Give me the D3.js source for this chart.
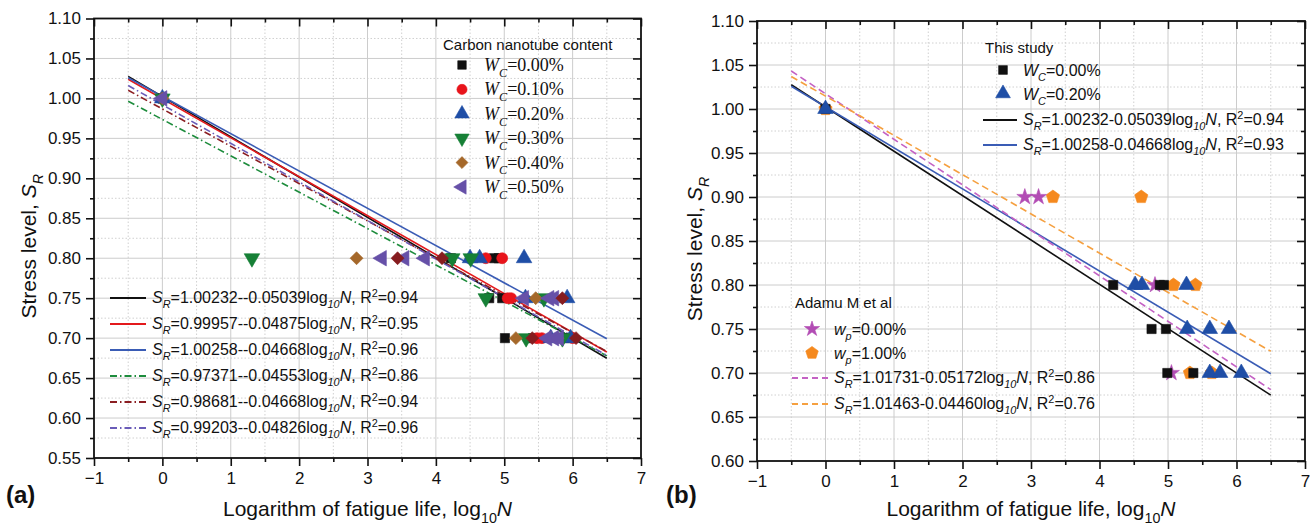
<!DOCTYPE html>
<html>
<head>
<meta charset="utf-8">
<script src="https://cdn.jsdelivr.net/npm/d3@7"></script>
<style>
  body { margin: 0; background: #fff; }
  svg { font-family: Arial, "Liberation Sans", sans-serif; }
  text { fill: #111; }
</style>
</head>
<body>
<svg id="chart" width="1313" height="530"></svg>
<script>
// ---- tick labels ----
const xTicks = [-1, 0, 1, 2, 3, 4, 5, 6, 7];
const yTicksA = [0.55, 0.60, 0.65, 0.70, 0.75, 0.80, 0.85, 0.90, 0.95, 1.00, 1.05, 1.10];
const yTicksB = [0.60, 0.65, 0.70, 0.75, 0.80, 0.85, 0.90, 0.95, 1.00, 1.05, 1.10];

// ---- panel (a) points: [log10N, S_R] ----
const wc000 = [[0, 1.0], [4.22, 0.80], [4.85, 0.80], [4.92, 0.80], [4.78, 0.75], [4.97, 0.75], [5.01, 0.70], [5.42, 0.70], [5.9, 0.70]];
const wc010 = [[0, 1.0], [4.73, 0.80], [4.97, 0.80], [5.05, 0.75], [5.1, 0.75], [5.48, 0.70], [5.55, 0.70], [6.0, 0.70]];
const wc020 = [[0, 1.0], [4.5, 0.80], [4.64, 0.80], [5.29, 0.80], [5.31, 0.75], [5.92, 0.75], [5.68, 0.70], [5.97, 0.70]];
const wc030 = [[0, 1.0], [1.31, 0.80], [4.24, 0.80], [4.51, 0.80], [4.73, 0.75], [5.58, 0.75], [5.32, 0.70], [5.85, 0.70]];
const wc040 = [[0, 1.0], [2.84, 0.80], [5.46, 0.75], [5.17, 0.70], [5.78, 0.70]];
const wc040b = [[3.44, 0.80], [4.09, 0.80], [5.85, 0.75], [5.41, 0.70], [6.05, 0.70]];
const wc050 = [[0, 1.0], [3.21, 0.80], [3.54, 0.80], [3.84, 0.80], [5.29, 0.75], [5.66, 0.75], [5.73, 0.75], [5.63, 0.70], [5.73, 0.70], [5.8, 0.70]];

// fitted lines, panel (a)
const fitA_a = [1.00232, 0.99957, 1.00258, 0.97371, 0.98681, 0.99203];
const fitA_b = [0.05039, 0.04875, 0.04668, 0.04553, 0.04668, 0.04826];
const fitA_r2 = ['0.94', '0.95', '0.96', '0.86', '0.94', '0.96'];
const wcLabels = ['0.00%', '0.10%', '0.20%', '0.30%', '0.40%', '0.50%'];

// ---- panel (b) points ----
const bW000 = [[0, 1.0], [4.2, 0.80], [4.88, 0.80], [4.94, 0.80], [4.76, 0.75], [4.97, 0.75], [4.99, 0.70], [5.37, 0.70]];
const bW020 = [[0, 1.0], [4.52, 0.80], [4.62, 0.80], [5.27, 0.80], [5.28, 0.75], [5.61, 0.75], [5.89, 0.75], [5.61, 0.70], [5.76, 0.70], [6.07, 0.70]];
const bWp000 = [[2.91, 0.90], [3.11, 0.90], [4.81, 0.80], [5.05, 0.70]];
const bWp100 = [[0, 1.0], [3.32, 0.90], [4.61, 0.90], [5.08, 0.80], [5.40, 0.80], [5.32, 0.70], [5.64, 0.70]];

const fitB_a = [1.00232, 1.00258, 1.01731, 1.01463];
const fitB_b = [0.05039, 0.04668, 0.05172, 0.04460];
const fitB_r2 = ['0.94', '0.93', '0.86', '0.76'];

const svg = d3.select('#chart');
const serif = '"Liberation Serif", "Times New Roman", serif';

// rich text with italic / sub / sup parts
function rich(sel, parts, fs) {
  let shift = 0;
  parts.forEach(p => {
    const target = p.sub ? 0.32 : p.sup ? -0.38 : 0;
    const ts = sel.append('tspan').text(p.t)
      .attr('dy', ((target - shift) * fs).toFixed(2))
      .attr('font-size', (p.sub || p.sup) ? fs * 0.68 : fs);
    if (p.i) ts.attr('font-style', 'italic');
    shift = target;
  });
  return sel;
}
function eqParts(a, b, r2, sep) {
  return [{ t: 'S', i: 1 }, { t: 'R', i: 1, sub: 1 }, { t: '=' + a.toFixed(5) + sep + b.toFixed(5) + 'log' },
    { t: '10', i: 1, sub: 1 }, { t: 'N', i: 1 }, { t: ', R' }, { t: '2', sup: 1 }, { t: '=' + r2 }];
}

function shapePath(shape, size) {
  if (shape === 'square') return d3.symbol(d3.symbolSquare, size)();
  if (shape === 'circle') return d3.symbol(d3.symbolCircle, size)();
  if (shape === 'star') return d3.symbol(d3.symbolStar, size)();
  if (shape === 'diamond') return d3.symbol(d3.symbolSquare, size * 0.8)();
  if (shape === 'pentagon') {
    const r = Math.sqrt(size / 2.38);
    const pts = d3.range(5).map(k => {
      const ang = -Math.PI / 2 + k * 2 * Math.PI / 5;
      return [r * Math.cos(ang), r * Math.sin(ang)];
    });
    return 'M' + pts.join('L') + 'Z';
  }
  return d3.symbol(d3.symbolTriangle, size)();
}
const shapeRot = { down: 180, left: -90, diamond: 45 };

function marker(g, shape, color, x, y, size) {
  g.append('path')
    .attr('d', shapePath(shape, size))
    .attr('transform', `translate(${x},${y}) rotate(${shapeRot[shape] || 0})`)
    .attr('fill', color)
    .attr('stroke', color)
    .attr('stroke-width', 0.6);
}

function panel(cfg) {
  const x = d3.scaleLinear().domain([-1, 7]).range([cfg.left, cfg.right]);
  const y = d3.scaleLinear().domain(cfg.yDomain).range([cfg.bottom, cfg.top]);
  const g = svg.append('g');

  // grid
  const xMinor = xTicks.slice(0, -1).map(v => v + 0.5);
  const yMinor = cfg.yTicks.slice(0, -1).map(v => v + 0.025);
  g.append('g').selectAll('line').data(xMinor).join('line')
    .attr('x1', d => x(d)).attr('x2', d => x(d)).attr('y1', cfg.top).attr('y2', cfg.bottom)
    .attr('stroke', '#d0d0d0').attr('stroke-dasharray', '1.5,2');
  g.append('g').selectAll('line').data(yMinor).join('line')
    .attr('y1', d => y(d)).attr('y2', d => y(d)).attr('x1', cfg.left).attr('x2', cfg.right)
    .attr('stroke', '#d0d0d0').attr('stroke-dasharray', '1.5,2');
  g.append('g').selectAll('line').data(xTicks.slice(1, -1)).join('line')
    .attr('x1', d => x(d)).attr('x2', d => x(d)).attr('y1', cfg.top).attr('y2', cfg.bottom)
    .attr('stroke', '#cccccc');
  g.append('g').selectAll('line').data(cfg.yTicks.slice(1, -1)).join('line')
    .attr('y1', d => y(d)).attr('y2', d => y(d)).attr('x1', cfg.left).attr('x2', cfg.right)
    .attr('stroke', '#cccccc');

  // axes (outward ticks bottom/left, inward top/right)
  const fmt = d3.format('.2f');
  g.append('g').attr('transform', `translate(0,${cfg.bottom})`)
    .call(d3.axisBottom(x).tickValues(xTicks).tickSize(8).tickPadding(6).tickFormat(d3.format('d')));
  g.append('g').attr('transform', `translate(${cfg.left},0)`)
    .call(d3.axisLeft(y).tickValues(cfg.yTicks).tickSize(8).tickPadding(5).tickFormat(fmt));
  g.append('g').attr('transform', `translate(0,${cfg.top})`)
    .call(d3.axisBottom(x).tickValues(xTicks).tickSize(8).tickFormat(''));
  g.append('g').attr('transform', `translate(${cfg.right},0)`)
    .call(d3.axisLeft(y).tickValues(cfg.yTicks).tickSize(8).tickFormat(''));
  g.append('g').attr('transform', `translate(0,${cfg.bottom})`)
    .call(d3.axisBottom(x).tickValues(xMinor).tickSize(4).tickFormat(''));
  g.append('g').attr('transform', `translate(${cfg.left},0)`)
    .call(d3.axisLeft(y).tickValues(yMinor).tickSize(4).tickFormat(''));
  g.append('g').attr('transform', `translate(0,${cfg.top})`)
    .call(d3.axisBottom(x).tickValues(xMinor).tickSize(4).tickFormat(''));
  g.append('g').attr('transform', `translate(${cfg.right},0)`)
    .call(d3.axisLeft(y).tickValues(yMinor).tickSize(4).tickFormat(''));
  g.selectAll('.domain').remove();
  g.selectAll('.tick line').attr('stroke', '#111').attr('stroke-width', 1.6);
  g.selectAll('.tick text').attr('font-size', 17).attr('fill', '#111')
    .attr('font-family', 'Arial, "Liberation Sans", sans-serif');
  g.append('rect').attr('x', cfg.left).attr('y', cfg.top)
    .attr('width', cfg.right - cfg.left).attr('height', cfg.bottom - cfg.top)
    .attr('fill', 'none').attr('stroke', '#111').attr('stroke-width', 1.8);

  // axis titles
  rich(g.append('text').attr('x', (cfg.left + cfg.right) / 2).attr('y', 516).attr('text-anchor', 'middle'),
    [{ t: 'Logarithm of fatigue life, log' }, { t: '10', sub: 1 }, { t: 'N', i: 1 }], 21);
  rich(g.append('text').attr('transform', `translate(${cfg.ytx},${(cfg.top + cfg.bottom) / 2 + 8}) rotate(-90)`)
    .attr('text-anchor', 'middle'),
    [{ t: 'Stress level, ' }, { t: 'S', i: 1 }, { t: 'R', i: 1, sub: 1 }], 21);
  g.append('text').attr('x', cfg.tagX).attr('y', 503).attr('font-size', 24).attr('font-weight', 'bold').text(cfg.tag);

  // fitted lines
  const line = d3.line().x(d => x(d[0])).y(d => y(d[1]));
  cfg.fits.forEach(f => {
    g.append('path').datum([-0.5, 6.5].map(v => [v, f.a - f.b * v]))
      .attr('d', line).attr('fill', 'none')
      .attr('stroke', f.color).attr('stroke-width', 1.6)
      .attr('stroke-dasharray', f.dash || null);
  });

  // points
  cfg.series.forEach(s => {
    s.data.forEach(d => marker(g, s.shape, s.color, x(d[0]), y(d[1]), s.size));
  });
  return g;
}

// ---------- panel (a) ----------
const fitColorsA = ['#111111', '#e3191c', '#3a5cb5', '#1d8c3c', '#8b1e22', '#6a5cb8'];
const fitDashA = [null, null, null, '7,3,1.5,3', '7,3,1.5,3', '7,3,1.5,3'];
const seriesStyleA = [
  { data: wc000, shape: 'square', color: '#111111', size: 85 },
  { data: wc010, shape: 'circle', color: '#e8141b', size: 95 },
  { data: wc020, shape: 'up', color: '#1f4ea6', size: 105 },
  { data: wc030, shape: 'down', color: '#168036', size: 105 },
  { data: wc040, shape: 'diamond', color: '#a5682a', size: 105 },
  { data: wc050, shape: 'left', color: '#6650a8', size: 105 }
];
const gA = panel({
  left: 94, right: 641, top: 18.5, bottom: 458, yDomain: [0.55, 1.10], yTicks: yTicksA,
  ytx: 36, tag: '(a)', tagX: 6,
  fits: fitA_a.map((a, i) => ({ a, b: fitA_b[i], color: fitColorsA[i], dash: fitDashA[i] })),
  series: [...seriesStyleA, { data: wc040b, shape: 'diamond', color: '#861c1f', size: 105 }]
});

// marker legend (a)
gA.append('text').attr('x', 443).attr('y', 50).attr('font-size', 15).text('Carbon nanotube content');
seriesStyleA.forEach((s, i) => {
  const yy = 65 + i * 24.4;
  marker(gA, s.shape, s.color, 462, yy, s.size * 0.85);
  rich(gA.append('text').attr('x', 484).attr('y', yy + 6).style('font-family', serif),
    [{ t: 'W', i: 1 }, { t: 'C', i: 1, sub: 1 }, { t: '=' + wcLabels[i] }], 18);
});
// line legend (a)
fitA_a.forEach((a, i) => {
  const yy = 298 + i * 26;
  gA.append('line').attr('x1', 110).attr('x2', 146).attr('y1', yy).attr('y2', yy)
    .attr('stroke', fitColorsA[i]).attr('stroke-width', 1.8).attr('stroke-dasharray', fitDashA[i]);
  rich(gA.append('text').attr('x', 152).attr('y', yy + 5), eqParts(a, fitA_b[i], fitA_r2[i], '--'), 16);
});

// ---------- panel (b) ----------
const fitColorsB = ['#111111', '#3a5cb5', '#c462c4', '#f5a040'];
const fitDashB = [null, null, '7,4', '7,4'];
const seriesStyleB = [
  { data: bW000, shape: 'square', color: '#111111', size: 85 },
  { data: bW020, shape: 'up', color: '#1f4ea6', size: 105 },
  { data: bWp000, shape: 'star', color: '#b24cb4', size: 80 },
  { data: bWp100, shape: 'pentagon', color: '#f5891e', size: 115 }
];
const gB = panel({
  left: 757, right: 1305, top: 21, bottom: 461, yDomain: [0.60, 1.10], yTicks: yTicksB,
  ytx: 702, tag: '(b)', tagX: 666,
  fits: fitB_a.map((a, i) => ({ a, b: fitB_b[i], color: fitColorsB[i], dash: fitDashB[i] })),
  series: [seriesStyleB[3], seriesStyleB[2], seriesStyleB[0], seriesStyleB[1]]
});

gB.append('text').attr('x', 985).attr('y', 53).attr('font-size', 15).text('This study');
['0.00%', '0.20%'].forEach((lab, i) => {
  const yy = 70 + i * 23.5;
  marker(gB, seriesStyleB[i].shape, seriesStyleB[i].color, 1003, yy, seriesStyleB[i].size * 0.9);
  rich(gB.append('text').attr('x', 1023).attr('y', yy + 6),
    [{ t: 'W', i: 1 }, { t: 'C', i: 1, sub: 1 }, { t: '=' + lab }], 16);
});
[0, 1].forEach((k, i) => {
  const yy = 120 + i * 25;
  gB.append('line').attr('x1', 983).attr('x2', 1017).attr('y1', yy).attr('y2', yy)
    .attr('stroke', fitColorsB[k]).attr('stroke-width', 1.8);
  rich(gB.append('text').attr('x', 1023).attr('y', yy + 5), eqParts(fitB_a[k], fitB_b[k], fitB_r2[k], '-'), 16);
});

gB.append('text').attr('x', 795).attr('y', 308).attr('font-size', 15).text('Adamu M et al');
['0.00%', '1.00%'].forEach((lab, i) => {
  const yy = 329 + i * 24;
  const s = seriesStyleB[2 + i];
  marker(gB, s.shape, s.color, 812, yy, s.size * 0.9);
  rich(gB.append('text').attr('x', 834).attr('y', yy + 6),
    [{ t: 'w', i: 1 }, { t: 'p', i: 1, sub: 1 }, { t: '=' + lab }], 16);
});
[2, 3].forEach((k, i) => {
  const yy = 378 + i * 26;
  gB.append('line').attr('x1', 792).attr('x2', 829).attr('y1', yy).attr('y2', yy)
    .attr('stroke', fitColorsB[k]).attr('stroke-width', 1.8).attr('stroke-dasharray', '6,4');
  rich(gB.append('text').attr('x', 834).attr('y', yy + 5), eqParts(fitB_a[k], fitB_b[k], fitB_r2[k], '-'), 16);
});
</script>
</body>
</html>
